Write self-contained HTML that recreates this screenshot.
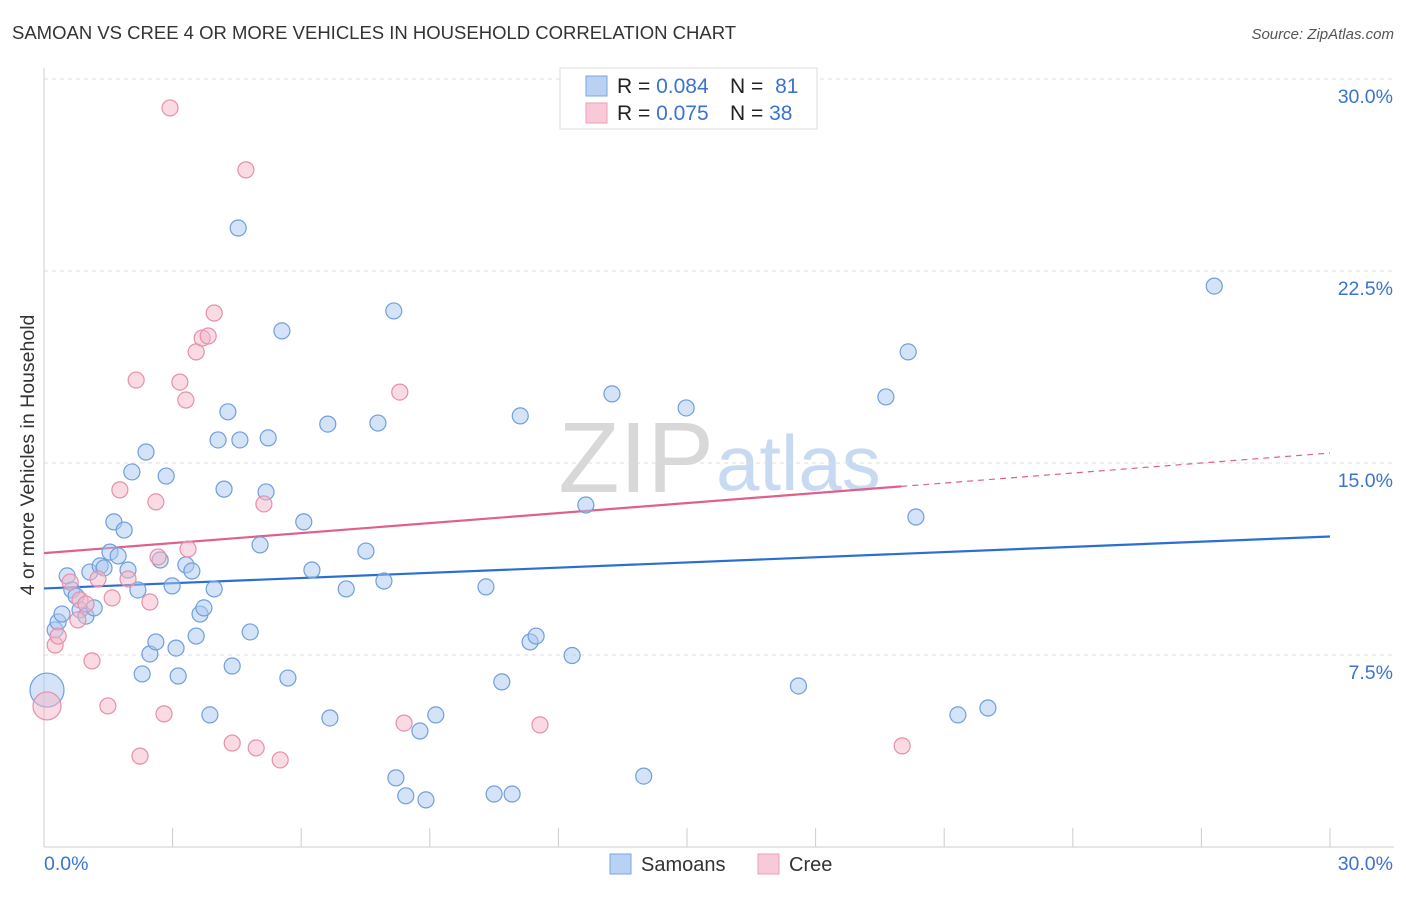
<!DOCTYPE html>
<html><head><meta charset="utf-8"><style>
body{margin:0;background:#fff;font-family:"Liberation Sans",sans-serif;}
svg text{font-family:"Liberation Sans",sans-serif;}
</style></head><body>
<svg id="chart" width="1406" height="892">
<text x="12" y="39" font-size="18.5" fill="#333">SAMOAN VS CREE 4 OR MORE VEHICLES IN HOUSEHOLD CORRELATION CHART</text>
<text x="1394" y="39" font-size="15" fill="#555" font-style="italic" text-anchor="end">Source: ZipAtlas.com</text>
<text x="714" y="492" font-size="100" fill="#d8d8d8" font-family="Liberation Serif" text-anchor="end">ZIP</text>
<text x="716" y="490" font-size="78" fill="#c8daf2">atlas</text>
<g id="grid"></g>
<g id="axes"></g>
<g id="lines"></g>
<g id="pts"></g>
<text transform="translate(34,455) rotate(-90)" font-size="19.5" fill="#333" text-anchor="middle">4 or more Vehicles in Household</text>
<g>
<rect x="560" y="68" width="257" height="61" fill="#fff" stroke="#ddd"/>
<rect x="586" y="76" width="21" height="20" fill="#b9d1f3" stroke="#7aa6e0"/>
<rect x="586" y="103" width="21" height="20" fill="#f8c9d7" stroke="#eaa0b8"/>
<text x="617" y="93" font-size="21" fill="#222">R = <tspan fill="#3b73d0">0.084</tspan></text>
<text x="730" y="93" font-size="21" fill="#222">N = <tspan fill="#3b73d0" dx="6">81</tspan></text>
<text x="617" y="120" font-size="21" fill="#222">R = <tspan fill="#3b73d0">0.075</tspan></text>
<text x="730" y="120" font-size="21" fill="#222">N = <tspan fill="#3b73d0">38</tspan></text>
</g>
<g>
<rect x="610" y="854" width="21" height="20" fill="#b9d1f3" stroke="#7aa6e0"/>
<text x="641" y="871" font-size="20" fill="#333">Samoans</text>
<rect x="758" y="854" width="21" height="20" fill="#f8c9d7" stroke="#eaa0b8"/>
<text x="789" y="871" font-size="20" fill="#333">Cree</text>
</g>
</svg>
<script>
const yTicks=[7.5,15,22.5,30];
const yTickLabels=["7.5%","15.0%","22.5%","30.0%"];
const blueX=[0.07,0.26,0.33,0.42,0.54,0.65,0.75,0.84,0.98,1.17,1.07,1.31,1.40,1.54,1.73,1.63,1.87,1.96,2.05,2.19,2.29,2.38,2.47,2.61,2.71,2.85,2.99,3.08,3.13,3.31,3.45,3.55,3.64,3.73,3.87,3.97,4.06,4.20,4.29,4.39,4.53,4.57,4.81,5.04,5.18,5.23,5.55,5.69,6.06,6.25,6.62,6.67,7.05,7.51,7.79,7.93,8.16,8.21,8.44,8.77,8.91,9.14,10.31,10.50,10.68,10.92,11.11,11.34,11.48,12.32,12.64,13.25,13.99,14.98,17.60,19.64,20.16,20.34,21.32,22.02,27.30];
const blueY=[6.13,8.48,8.79,9.10,10.59,10.04,9.80,9.26,9.02,9.34,10.74,10.98,10.90,11.52,11.37,12.70,12.38,10.82,14.65,10.04,6.76,15.43,7.54,8.01,11.21,14.49,10.20,7.77,6.68,11.02,10.78,8.24,9.10,9.34,5.16,10.08,15.90,13.98,17.00,7.07,24.18,15.90,8.40,11.80,13.87,15.98,20.16,6.60,12.70,10.82,16.52,5.04,10.08,11.56,16.56,10.39,20.94,2.70,2.00,4.53,1.84,5.16,10.16,2.07,6.45,2.07,16.84,8.01,8.24,7.48,13.36,17.70,2.77,17.15,6.29,17.58,19.34,12.89,5.16,5.43,21.91];
const pinkX=[0.07,0.26,0.33,0.61,0.79,0.84,0.98,1.12,1.26,1.49,1.59,1.77,1.96,2.15,2.24,2.47,2.61,2.66,2.80,2.94,3.17,3.31,3.36,3.55,3.69,3.83,3.97,4.39,4.71,4.95,5.13,5.51,8.30,8.40,11.57,20.02];
const pinkY=[5.51,7.89,8.24,10.35,8.87,9.65,9.49,7.27,10.47,5.51,9.73,13.95,10.47,18.24,3.55,9.57,13.48,11.33,5.20,28.87,18.16,17.46,11.64,19.34,19.88,19.96,20.86,4.06,26.45,3.87,13.40,3.40,17.77,4.84,4.77,3.95];
const blueTrend=[10.1,12.13];
const pinkTrend=[11.48,15.39];
const ns="http://www.w3.org/2000/svg";
const X0=44,X1=1330,Y0=847,Y30=79;
function sx(v){return X0+(v/30)*(X1-X0);}
function sy(v){return Y0-(v/30)*(Y0-Y30);}
function mk(t,a,p){const e=document.createElementNS(ns,t);for(const k in a)e.setAttribute(k,a[k]);p.appendChild(e);return e;}
const grid=document.getElementById('grid'),axes=document.getElementById('axes');
yTicks.forEach((t,i)=>{
 const l=mk('line',{x1:44,x2:1394,y1:sy(t),y2:sy(t),stroke:'#ddd','stroke-dasharray':'4,4'},grid);
 
 
 const tx=mk('text',{x:1393,y:sy(t)+24,'font-size':19.5,fill:'#3b73d0','text-anchor':'end'},axes);
 tx.textContent=yTickLabels[i];
 
 
});
let ax=mk('line',{x1:44,x2:44,y1:68,y2:847,stroke:'#ccc'},axes);
ax=mk('line',{x1:44,x2:1394,y1:847,y2:847,stroke:'#ccc'},axes);


for(let i=1;i<=10;i++){const t=mk('line',{x1:sx(i*3),x2:sx(i*3),y1:828,y2:847,stroke:'#ccc'},axes);
 
 }
let xl=mk('text',{x:44,y:870,'font-size':19.5,fill:'#3b73d0'},axes);xl.textContent='0.0%';


xl=mk('text',{x:1393,y:870,'font-size':19.5,fill:'#3b73d0','text-anchor':'end'},axes);xl.textContent='30.0%';


const pts=document.getElementById('pts');
function dots(xs,ys,fill,stroke,name,big){xs.forEach((x,i)=>{
 const r=i===0?big:8;
 const c=mk('circle',{cx:sx(x),cy:sy(ys[i]),r:r,fill:fill,'fill-opacity':0.5,stroke:stroke,'stroke-width':1.2},pts);
 
 
});}
dots(blueX,blueY,'#a9c8f0','#6f9fdc','samoans-point',17);
dots(pinkX,pinkY,'#f6b8c8','#e58fab','cree-point',14);
const lines=document.getElementById('lines');
let bl=mk('line',{x1:sx(0),y1:sy(blueTrend[0]),x2:sx(30),y2:sy(blueTrend[1]),stroke:'#2a6fd4','stroke-width':2.2},lines);


const pm=v=>pinkTrend[0]+(pinkTrend[1]-pinkTrend[0])*v/30;
let pl=mk('line',{x1:sx(0),y1:sy(pm(0)),x2:sx(20),y2:sy(pm(20)),stroke:'#e0608a','stroke-width':2.2},lines);


pl=mk('line',{x1:sx(20),y1:sy(pm(20)),x2:sx(30),y2:sy(pm(30)),stroke:'#e0608a','stroke-width':1.2,'stroke-dasharray':'6,5'},lines);


</script>
</body></html>
